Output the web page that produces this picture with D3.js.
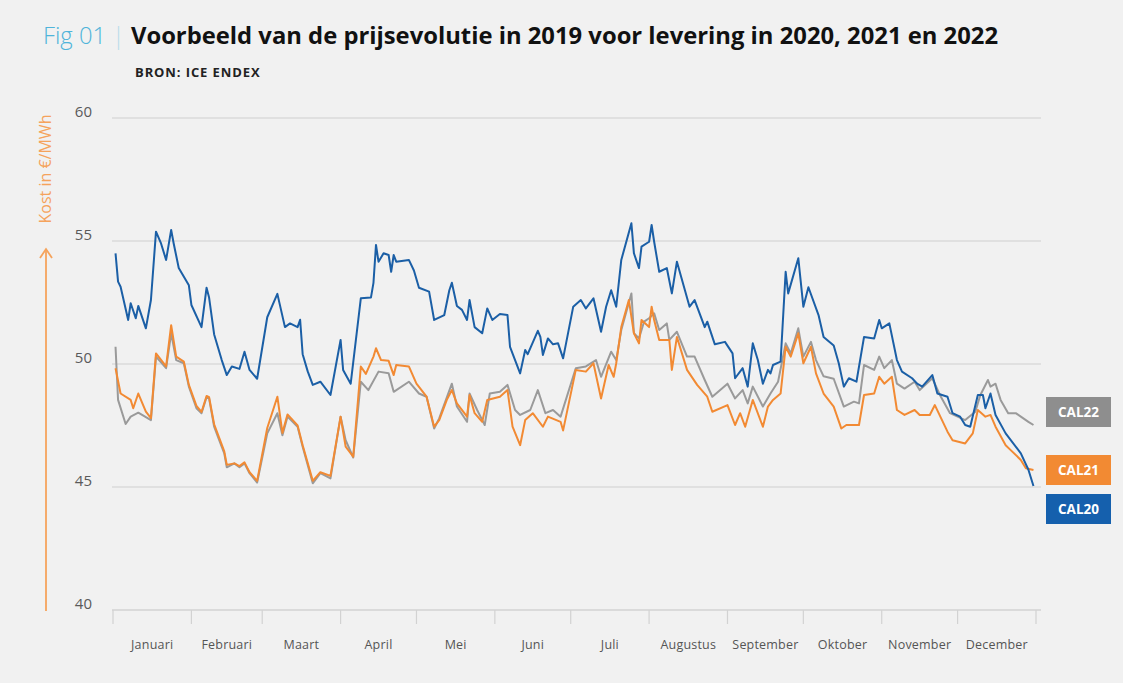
<!DOCTYPE html>
<html>
<head>
<meta charset="utf-8">
<script src="https://cdn.jsdelivr.net/npm/d3@7/dist/d3.min.js"></script>
<style>
  html, body { margin: 0; padding: 0; background: #f1f1f1; }
  svg { display: block; }
  text { font-family: "Open Sans", "DejaVu Sans", sans-serif; }
</style>
</head>
<body>
<svg id="chart" width="1123" height="683"></svg>
<script>
// ---- DATA (day of year 2019, €/MWh) ----
const months = ["Januari","Februari","Maart","April","Mei","Juni","Juli","Augustus","September","Oktober","November","December"];
const yTicks = [40, 45, 50, 55, 60];
const seriesNames = ["CAL22", "CAL21", "CAL20"];

const cal20 = [
 [2,54.5],[3,53.35],[4,53.14],[7,51.79],[8,52.47],[10,51.86],[11,52.36],[14,51.45],[16,52.6],[18,55.38],
 [20,54.9],[22,54.23],[24,55.45],[25,54.9],[27,53.9],[31,53.2],[32,52.4],[36,51.5],[38,53.1],[39,52.7],
 [41,51.2],[44,50.16],[46,49.55],[48,49.9],[51,49.8],[53,50.5],[55,49.76],[58,49.4],[62,51.9],[66,52.85],
 [69,51.5],[71,51.65],[74,51.5],[75,51.8],[76,50.4],[78,49.7],[80,49.15],[83,49.28],[87,48.74],[91,50.98],
 [92,49.76],[95,49.2],[99,52.67],[103,52.7],[104,53.3],[105,54.84],[106,54.16],[108,54.5],[110,54.43],[111,53.75],
 [112,54.43],[113,54.16],[118,54.23],[120,53.8],[122,53.1],[126,52.94],[128,51.79],[132,51.99],[134,53.0],[135,53.3],
 [137,52.36],[139,52.2],[141,51.79],[142,52.6],[144,51.5],[147,51.25],[149,52.26],[151,51.79],[154,52.03],[157,51.99],
 [158,50.7],[162,49.62],[164,50.57],[165,50.4],[169,51.35],[170,51.1],[171,50.37],[173,51.04],[175,50.8],[177,50.84],
 [179,50.23],[183,52.33],[186,52.6],[188,52.26],[191,52.67],[194,51.31],[196,52.33],[198,53.0],[200,52.33],[202,54.23],
 [206,55.72],[207,54.5],[209,53.9],[210,54.77],[213,54.97],[214,55.65],[215,54.97],[217,53.75],[220,53.9],[222,52.87],
 [224,54.16],[229,52.33],[231,52.6],[235,51.5],[236,51.72],[239,50.8],[243,50.9],[246,50.43],[247,49.42],[250,49.83],
 [252,49.08],[254,50.84],[256,50.16],[258,49.2],[260,49.76],[261,49.62],[262,49.96],[265,50.1],[267,53.75],[268,52.87],
 [272,54.3],[274,52.33],[276,53.12],[280,51.99],[282,51.1],[286,50.75],[288,50.03],[290,49.08],[292,49.42],[295,49.28],
 [298,51.1],[302,51.04],[304,51.79],[305,51.45],[308,51.65],[311,50.16],[313,49.69],[317,49.42],[319,49.2],[321,49.08],
 [325,49.55],[327,48.8],[331,48.67],[333,48.0],[336,47.86],[338,47.52],[340,47.45],[343,48.74],[345,48.74],[346,48.2],
 [348,48.8],[350,47.93],[354,47.18],[360,46.37],[363,45.7],[365,45.04]
];

const cal21 = [
 [2,49.83],[4,48.8],[8,48.54],[9,48.2],[11,48.8],[14,48.06],[16,47.8],[18,50.43],[22,49.9],[24,51.58],
 [26,50.3],[29,50.1],[31,49.15],[34,48.3],[36,48.05],[38,48.7],[39,48.65],[41,47.55],[43,47.0],[45,46.45],
 [46,45.9],[49,45.96],[51,45.85],[53,46.0],[55,45.6],[58,45.25],[62,47.4],[66,48.67],[68,47.2],[70,47.95],
 [74,47.5],[76,46.7],[80,45.25],[83,45.6],[87,45.45],[91,47.86],[93,46.64],[96,46.23],[99,49.9],[101,49.6],
 [104,50.3],[105,50.64],[107,50.16],[110,50.13],[112,49.55],[113,49.96],[118,49.9],[121,49.2],[125,48.67],[128,47.45],
 [130,47.72],[133,48.54],[135,48.94],[137,48.4],[141,47.86],[142,48.74],[144,48.0],[147,47.65],[149,48.54],[154,48.67],
 [157,48.94],[159,47.45],[162,46.7],[164,47.72],[167,48.0],[171,47.45],[173,47.86],[178,47.65],[179,47.3],[184,49.76],
 [188,49.69],[191,50.03],[194,48.6],[197,49.96],[199,49.48],[200,50.03],[202,51.5],[205,52.6],[207,51.25],[209,50.84],
 [210,51.79],[213,51.5],[214,52.33],[215,51.79],[217,50.98],[221,50.98],[222,49.76],[224,51.1],[228,49.76],[232,49.15],
 [236,48.67],[238,48.06],[244,48.33],[247,47.52],[249,48.0],[251,47.45],[254,48.54],[258,47.45],[260,48.27],[262,48.54],
 [265,48.8],[267,50.7],[269,50.3],[272,51.25],[274,50.03],[277,50.7],[279,49.62],[282,48.8],[286,48.27],[289,47.38],
 [291,47.52],[296,47.52],[298,48.74],[302,48.8],[304,49.48],[306,49.2],[309,49.48],[311,48.13],[314,47.93],[318,48.13],
 [320,47.93],[324,47.93],[326,48.33],[331,47.25],[333,46.9],[338,46.77],[341,47.18],[343,48.13],[346,47.86],[348,47.93],
 [350,47.45],[354,46.7],[356,46.5],[360,46.1],[362,45.76],[365,45.69]
];

const cal22 = [
 [2,50.7],[3,48.54],[6,47.56],[8,47.86],[11,48.02],[16,47.72],[18,50.3],[22,49.83],[24,51.25],[26,50.16],
 [29,50.03],[31,49.08],[34,48.2],[36,48.0],[38,48.65],[39,48.6],[41,47.45],[43,46.9],[45,46.37],[46,45.8],
 [49,45.96],[51,45.8],[53,45.96],[55,45.56],[58,45.18],[62,47.18],[66,48.0],[68,47.1],[70,47.86],[74,47.45],
 [76,46.64],[80,45.15],[83,45.56],[87,45.35],[91,47.86],[93,46.9],[96,46.2],[99,49.28],[102,48.94],[106,49.69],
 [110,49.62],[112,48.87],[118,49.28],[122,48.8],[125,48.67],[128,47.38],[130,47.79],[135,49.2],[137,48.27],[141,47.65],
 [142,48.8],[145,48.13],[148,47.52],[150,48.8],[154,48.87],[157,49.15],[160,48.13],[162,47.93],[166,48.13],[169,48.94],
 [172,48.0],[175,48.13],[178,47.86],[184,49.83],[188,49.9],[192,50.16],[194,49.48],[198,50.5],[200,50.16],[202,51.38],
 [206,52.87],[207,51.25],[209,51.04],[211,51.72],[213,51.86],[215,52.06],[217,51.38],[220,51.65],[221,50.98],[224,51.31],
 [228,50.3],[231,50.3],[235,49.35],[238,48.67],[244,49.2],[247,48.6],[250,48.94],[252,48.4],[254,49.08],[258,48.27],
 [261,48.8],[264,49.28],[267,50.84],[269,50.43],[272,51.45],[274,50.3],[277,50.9],[279,50.16],[282,49.5],[286,49.4],
 [290,48.27],[294,48.47],[296,48.4],[298,49.96],[302,49.76],[304,50.3],[306,49.83],[309,50.16],[311,49.2],[314,49.0],
 [318,49.28],[320,48.94],[325,49.42],[328,48.74],[332,48.0],[335,47.86],[338,47.72],[342,48.06],[344,48.74],[347,49.35],
 [348,49.08],[350,49.2],[352,48.54],[355,48.0],[358,48.0],[361,47.79],[363,47.65],[365,47.52]
];

// ---- CHART ----
const svg = d3.select("#chart");
const W = 1123, H = 683;
svg.append("rect").attr("width", W).attr("height", H).attr("fill", "#f1f1f1");

const start = new Date(2019, 0, 1), end = new Date(2020, 0, 1);
const dayToDate = d => d3.timeDay.offset(start, d - 1);
const x = d3.scaleTime().domain([start, end]).range([113, 1036]);
const y = d3.scaleLinear().domain([40, 60]).range([610, 118]);

const colors = { CAL20: "#1b5fa6", CAL21: "#f28a33", CAL22: "#9a9a9a" };
const legendFill = { CAL20: "#1560ad", CAL21: "#f28a33", CAL22: "#8e8e8e" };

// gridlines
svg.append("g").selectAll("line").data(yTicks).join("line")
  .attr("x1", 112).attr("x2", 1041)
  .attr("y1", d => y(d)).attr("y2", d => y(d))
  .attr("stroke", d => d === 40 ? "#d2d2d2" : "#dadada").attr("stroke-width", 1.3);

// y tick labels
svg.append("g").selectAll("text").data(yTicks).join("text")
  .attr("x", 92).attr("y", d => y(d)).attr("dy", "-0.05em")
  .attr("text-anchor", "end").attr("font-size", 15).attr("fill", "#5a5a5a")
  .text(d => d);

// x axis ticks (month boundaries)
const monthStarts = d3.timeMonth.range(start, d3.timeDay.offset(end, 1));
svg.append("g").selectAll("line").data(monthStarts).join("line")
  .attr("x1", d => x(d)).attr("x2", d => x(d))
  .attr("y1", 610).attr("y2", 624)
  .attr("stroke", "#d2d2d2").attr("stroke-width", 1.2);

// month labels centered in month
svg.append("g").selectAll("text").data(months).join("text")
  .attr("x", (m, i) => (x(new Date(2019, i, 1)) + x(new Date(2019, i + 1, 1))) / 2)
  .attr("y", 649)
  .attr("text-anchor", "middle").attr("font-size", 12.5).attr("letter-spacing", 0.2).attr("fill", "#555")
  .text(d => d);

// lines
const line = d3.line().x(d => x(dayToDate(d[0]))).y(d => y(d[1]));
const seriesData = { CAL22: cal22, CAL21: cal21, CAL20: cal20 };
seriesNames.forEach(name => {
  svg.append("path").datum(seriesData[name])
    .attr("fill", "none").attr("stroke", colors[name])
    .attr("stroke-width", 2).attr("stroke-linejoin", "round")
    .attr("d", line);
});

// legend boxes
const legendY = { CAL22: 397, CAL21: 455, CAL20: 494 };
seriesNames.forEach(name => {
  const g = svg.append("g");
  g.append("rect").attr("x", 1046).attr("y", legendY[name]).attr("width", 65).attr("height", 30)
    .attr("fill", legendFill[name]);
  g.append("text").attr("x", 1078.5).attr("y", legendY[name] + 20)
    .attr("text-anchor", "middle").attr("font-size", 13.5).attr("font-weight", 700)
    .attr("fill", "#ffffff").text(name);
});

// y axis title + arrow
const axisCol = "#f5a35c";
svg.append("text")
  .attr("transform", "translate(51,169) rotate(-90)")
  .attr("text-anchor", "middle").attr("font-size", 16).attr("fill", axisCol)
  .text("Kost in €/MWh");
svg.append("line").attr("x1", 46).attr("x2", 46).attr("y1", 611).attr("y2", 250)
  .attr("stroke", axisCol).attr("stroke-width", 1.8);
svg.append("path").attr("d", "M40,258 L46,249 L52,258")
  .attr("fill", "none").attr("stroke", axisCol).attr("stroke-width", 1.8);

// title
const title = svg.append("text").attr("x", 43).attr("y", 44).attr("font-size", 23.8);
title.append("tspan").attr("fill", "#4fb4da").attr("font-weight", 300).text("Fig 01");
title.append("tspan").attr("fill", "#b9dcea").attr("dx", 6).attr("font-weight", 300).text("|");
title.append("tspan").attr("fill", "#111").attr("dx", 6).attr("font-weight", 700)
  .text("Voorbeeld van de prijsevolutie in 2019 voor levering in 2020, 2021 en 2022");

svg.append("text").attr("x", 135).attr("y", 77).attr("font-size", 13).attr("font-weight", 700)
  .attr("letter-spacing", 0.9).attr("fill", "#222").text("BRON: ICE ENDEX");
</script>
</body>
</html>
